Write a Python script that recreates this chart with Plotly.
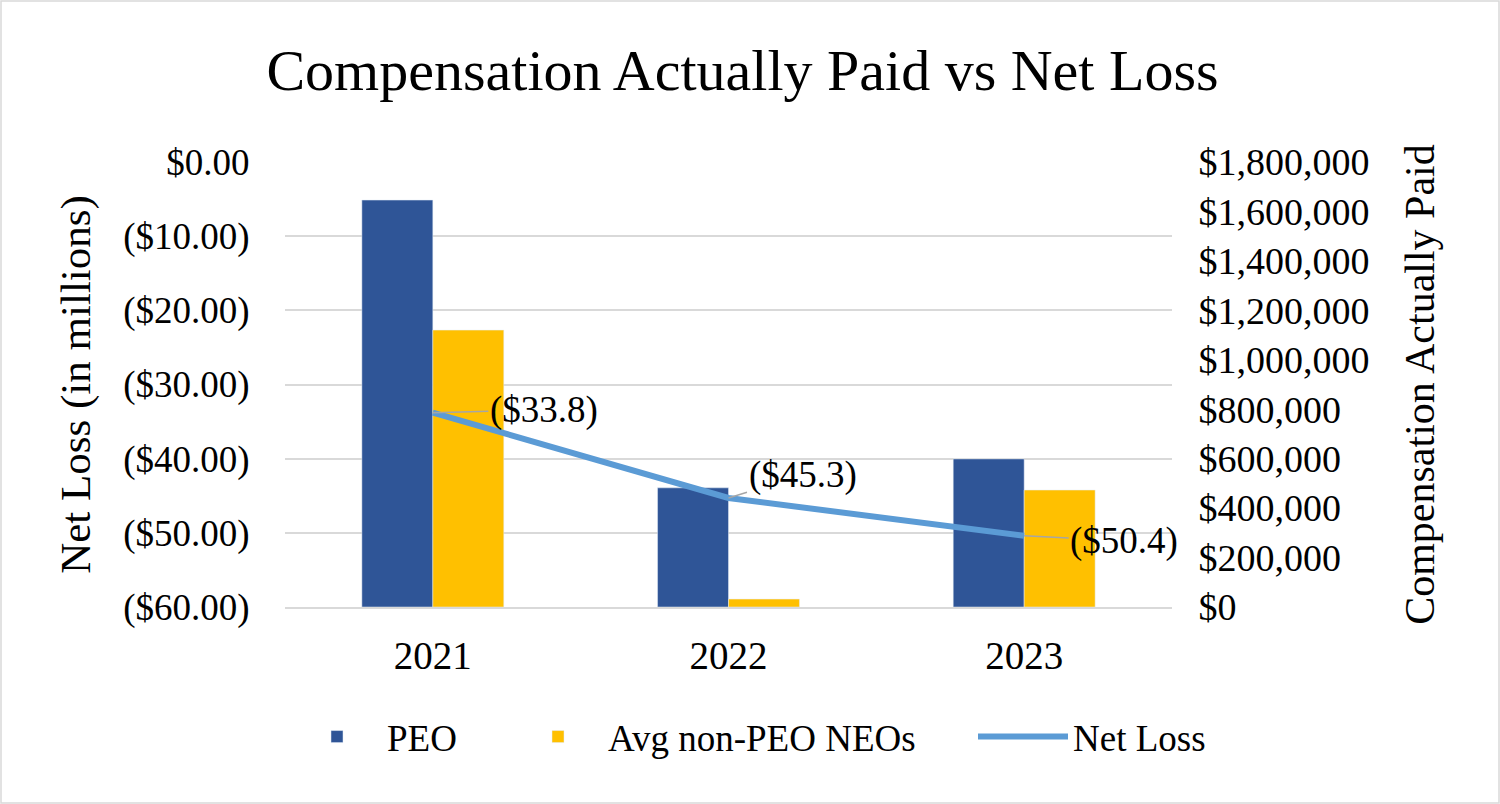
import plotly.graph_objects as go

years = ["2021", "2022", "2023"]
peo_cap = [1646000, 482000, 599000]
neo_cap = [1120000, 32000, 473000]
net_loss = [-33.8, -45.3, -50.4]

left_tickvals = [0, -10, -20, -30, -40, -50, -60]
left_ticktext = ["$0.00", "($10.00)", "($20.00)", "($30.00)", "($40.00)", "($50.00)", "($60.00)"]

FONT = "Liberation Serif"
BLACK = "#000000"
CLEAR = "rgba(0,0,0,0)"
W, H = 1500, 804

fig = go.Figure()
fig.add_trace(go.Bar(x=years, y=peo_cap, name="PEO", marker_color="#2f5597",
                     xaxis="x", yaxis="y", legend="legend"))
fig.add_trace(go.Bar(x=years, y=neo_cap, name="Avg non-PEO NEOs", marker_color="#ffc000",
                     xaxis="x", yaxis="y", legend="legend2"))
fig.add_trace(go.Scatter(x=years, y=net_loss, name="Net Loss", mode="lines",
                         line=dict(color="#5b9bd5", width=6), xaxis="x", yaxis="y2",
                         legend="legend3"))

offsets = [(111, -3), (74, -23), (100, 5)]
for i, (yv, (ax, ay)) in enumerate(zip(net_loss, offsets)):
    fig.add_annotation(x=i, y=yv, xref="x", yref="y2",
                       text="(${:.1f})".format(abs(yv)),
                       showarrow=True, arrowhead=0, arrowwidth=1.5, arrowcolor="#a6a6a6",
                       ax=ax, ay=ay, font=dict(family=FONT, size=37, color=BLACK))

legend_font = dict(family=FONT, size=37, color=BLACK)
legend_common = dict(orientation="h", xref="container", yref="container",
                     xanchor="left", yanchor="middle", y=1 - 737 / H,
                     font=legend_font, itemwidth=90, bgcolor=CLEAR)

fig.update_layout(
    width=W, height=H,
    margin=dict(l=285, r=328, t=162, b=197, autoexpand=False),
    paper_bgcolor="white", plot_bgcolor="white",
    barmode="group", bargap=0.52, bargroupgap=0,
    font=dict(family=FONT, size=37, color=BLACK),
    title=dict(text="Compensation Actually Paid vs Net Loss",
               font=dict(family=FONT, size=58, color=BLACK),
               x=0.495, xanchor="center",
               y=1 - 70 / H, yanchor="middle"),
    xaxis=dict(type="category", categoryorder="array", categoryarray=years,
               range=[-0.5, 2.5], showgrid=False, showline=True, linecolor="#d9d9d9",
               linewidth=1.5, ticks="outside", ticklen=13, tickcolor=CLEAR,
               tickfont=dict(family=FONT, size=39, color=BLACK)),
    yaxis=dict(side="right", range=[0, 1800000], dtick=200000, tick0=0,
               tickprefix="$", tickformat=",", showgrid=False, zeroline=False,
               ticks="outside", ticklen=18, tickcolor=CLEAR,
               tickfont=dict(family=FONT, size=38, color=BLACK),
               title=dict(text="Compensation Actually Paid", standoff=36,
                          font=dict(family=FONT, size=42, color=BLACK))),
    yaxis2=dict(side="left", overlaying="y", range=[-60, 0],
                tickmode="array", tickvals=left_tickvals, ticktext=left_ticktext,
                showgrid=True, gridcolor="#d9d9d9", gridwidth=1.5, zeroline=False,
                ticks="outside", ticklen=27, tickcolor=CLEAR,
                tickfont=dict(family=FONT, size=37, color=BLACK),
                title=dict(text="Net Loss (in millions)", standoff=19,
                           font=dict(family=FONT, size=43, color=BLACK))),
    legend=dict(x=287 / W, **legend_common),
    legend2=dict(x=508 / W, **legend_common),
    legend3=dict(x=973 / W, **legend_common),
    showlegend=True,
)

fig.add_shape(type="rect", xref="paper", yref="paper",
              x0=-284 / 887, x1=(1499 - 285) / 887, y0=-196 / 445, y1=(607 - 1) / 445,
              line=dict(color="#d9d9d9", width=1.5), fillcolor=CLEAR, layer="below")

fig.write_html("out.html", config={"displayModeBar": False},
               post_script="document.body.style.margin='0';")
